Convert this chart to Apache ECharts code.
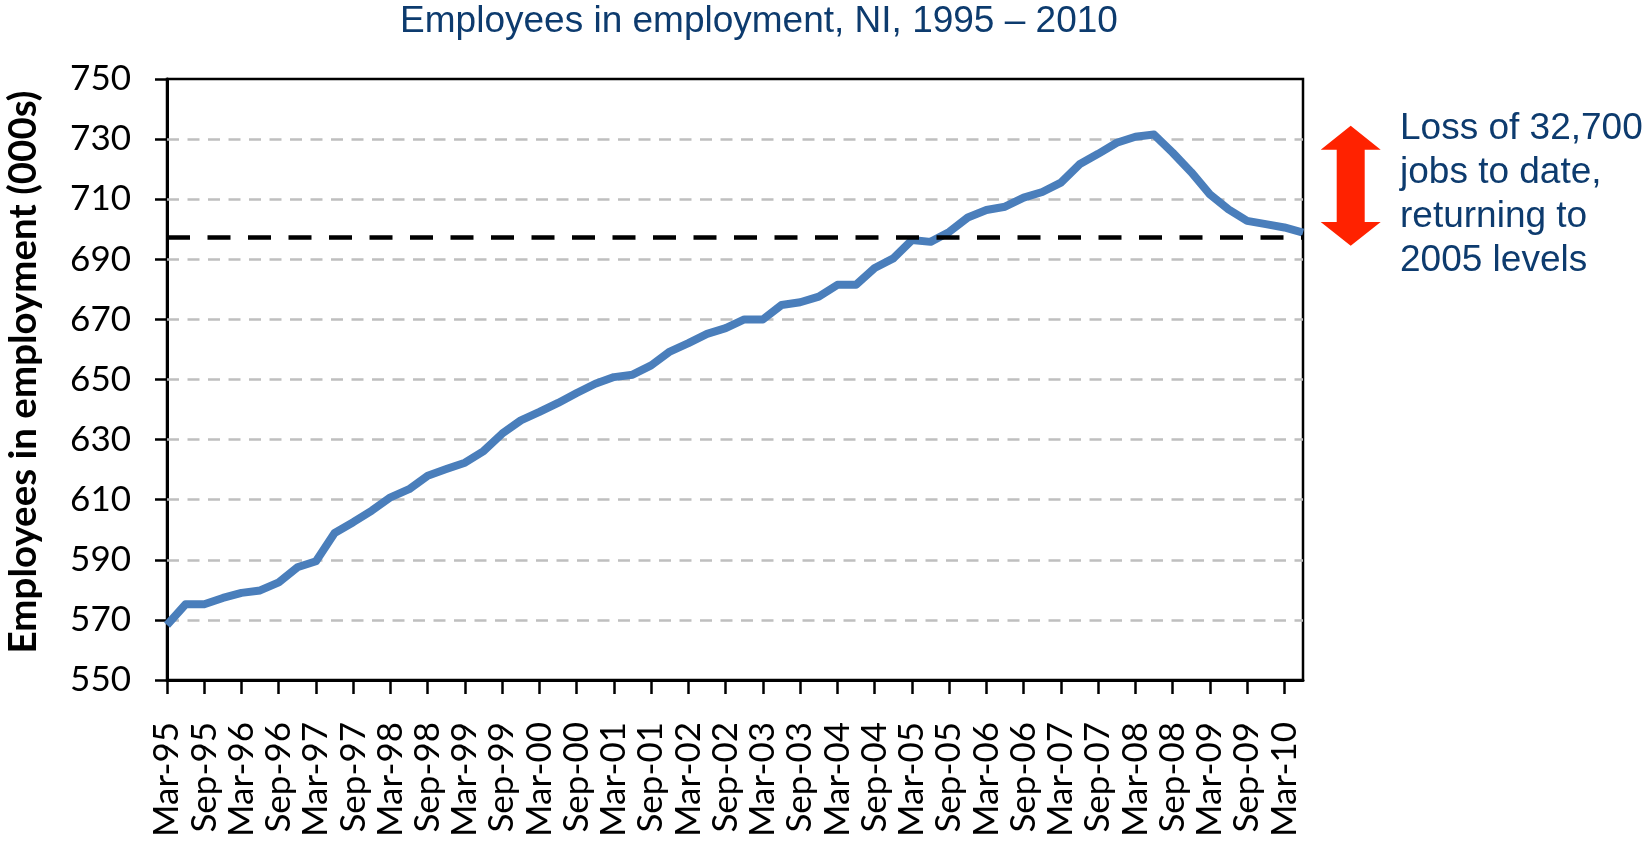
<!DOCTYPE html>
<html><head><meta charset="utf-8">
<script src="https://cdn.jsdelivr.net/npm/echarts@6/dist/echarts.min.js"></script>
<style>html,body{margin:0;padding:0;background:#fff}#c{width:1645px;height:841px}</style>
</head><body><div id="c"></div>
<script>
const categories = [
  'Mar-95','Jun-95','Sep-95','Dec-95','Mar-96','Jun-96','Sep-96','Dec-96',
  'Mar-97','Jun-97','Sep-97','Dec-97','Mar-98','Jun-98','Sep-98','Dec-98',
  'Mar-99','Jun-99','Sep-99','Dec-99','Mar-00','Jun-00','Sep-00','Dec-00',
  'Mar-01','Jun-01','Sep-01','Dec-01','Mar-02','Jun-02','Sep-02','Dec-02',
  'Mar-03','Jun-03','Sep-03','Dec-03','Mar-04','Jun-04','Sep-04','Dec-04',
  'Mar-05','Jun-05','Sep-05','Dec-05','Mar-06','Jun-06','Sep-06','Dec-06',
  'Mar-07','Jun-07','Sep-07','Dec-07','Mar-08','Jun-08','Sep-08','Dec-08',
  'Mar-09','Jun-09','Sep-09','Dec-09','Mar-10','Jun-10'
];
const employment = [
  568.3, 575.2, 575.2, 577.3, 579.0, 579.8, 582.5, 587.5,
  589.5, 598.9, 602.5, 606.4, 610.8, 613.5, 618.0, 620.2,
  622.3, 626.2, 632.0, 636.4, 639.2, 642.2, 645.5, 648.6,
  650.8, 651.6, 654.7, 659.3, 662.1, 665.2, 667.1, 670.0,
  670.0, 674.8, 675.7, 677.6, 681.5, 681.5, 687.1, 690.3,
  696.4, 695.8, 699.1, 703.9, 706.4, 707.5, 710.5, 712.4,
  715.5, 721.6, 725.1, 728.8, 730.8, 731.5, 725.5, 719.0,
  711.6, 706.6, 702.8, 701.7, 700.6, 698.9
];
const yTickValues = [550, 570, 590, 610, 630, 650, 670, 690, 710, 730, 750];
const referenceLevel = 697.5;
const titleText = 'Employees in employment, NI, 1995 \u2013 2010';
const yAxisTitle = 'Employees in employment (000s)';
const noteLines = ['Loss of 32,700', 'jobs to date,', 'returning to', '2005 levels'];

const NAVY = '#0D3B6E';
const chart = echarts.init(document.getElementById('c'), null, {renderer: 'canvas'});
const option = {
  animation: false,
  backgroundColor: '#fff',
  title: {
    text: titleText, left: 759, top: 3, textAlign: 'center', padding: 0,
    textStyle: {fontFamily: 'Liberation Sans', fontSize: 37, fontWeight: 'normal', color: NAVY}
  },
  grid: {
    left: 167, right: 342, top: 79, bottom: 161, show: true, borderColor: '#000', borderWidth: 2.5,
    backgroundColor: 'transparent', containLabel: false, outerBoundsMode: 'none'
  },
  xAxis: {
    type: 'category', data: categories, boundaryGap: false,
    axisLine: {lineStyle: {color: '#000', width: 3}},
    axisTick: {show: true, interval: 1, length: 14, lineStyle: {color: '#000', width: 2.5}},
    axisLabel: {interval: 1, rotate: 90, margin: 42, padding: [12, 0, 0, 0], fontFamily: 'Lato', fontSize: 35, color: '#000'},
    splitLine: {show: false}
  },
  yAxis: {
    type: 'value', min: yTickValues[0], max: yTickValues[yTickValues.length - 1],
    name: yAxisTitle, nameLocation: 'middle', nameGap: 124,
    nameTextStyle: {fontFamily: 'Lato', fontWeight: 'bold', fontSize: 38.5, color: '#000', padding: [0, 0, 0, 15]},
    axisLine: {show: true, lineStyle: {color: '#000', width: 3}},
    axisTick: {show: true, length: 12, customValues: yTickValues, lineStyle: {color: '#000', width: 2.5}},
    axisLabel: {customValues: yTickValues, margin: 36, fontFamily: 'Lato', fontSize: 35, color: '#000'},
    splitLine: {show: false}
  },
  series: [
    {
      type: 'line', data: [], silent: true, z: 1,
      markLine: {
        silent: true, symbol: 'none', z: 1, label: {show: false},
        lineStyle: {color: '#BFBFBF', type: [12, 8.5], width: 2.5},
        data: yTickValues.slice(1, -1).map(v => ({yAxis: v}))
      }
    },
    {
      type: 'line', data: employment, z: 3, showSymbol: false, symbol: 'none',
      lineStyle: {color: '#4A7EBB', width: 8, join: 'round'}, itemStyle: {color: '#4A7EBB'},
      markLine: {
        silent: true, symbol: 'none', z: 5, label: {show: false},
        lineStyle: {color: '#000', type: [23, 17.5], width: 4.5},
        data: [{yAxis: referenceLevel}]
      }
    }
  ],
  graphic: [
    {
      type: 'polygon', z: 10,
      shape: {points: [[1350.7, 125.7], [1380.7, 149.7], [1364.7, 149.7], [1364.7, 222], [1380.7, 222], [1350.7, 245.7], [1320.7, 222], [1336.7, 222], [1336.7, 149.7], [1320.7, 149.7]]},
      style: {fill: '#FF2200'}
    },
    {
      type: 'text', z: 10, x: 1400, y: 107,
      style: {text: noteLines.join('\n'), fontFamily: 'Liberation Sans', fontSize: 37, lineHeight: 44, fill: NAVY}
    }
  ]
};
chart.setOption(option);
</script>
</body></html>
